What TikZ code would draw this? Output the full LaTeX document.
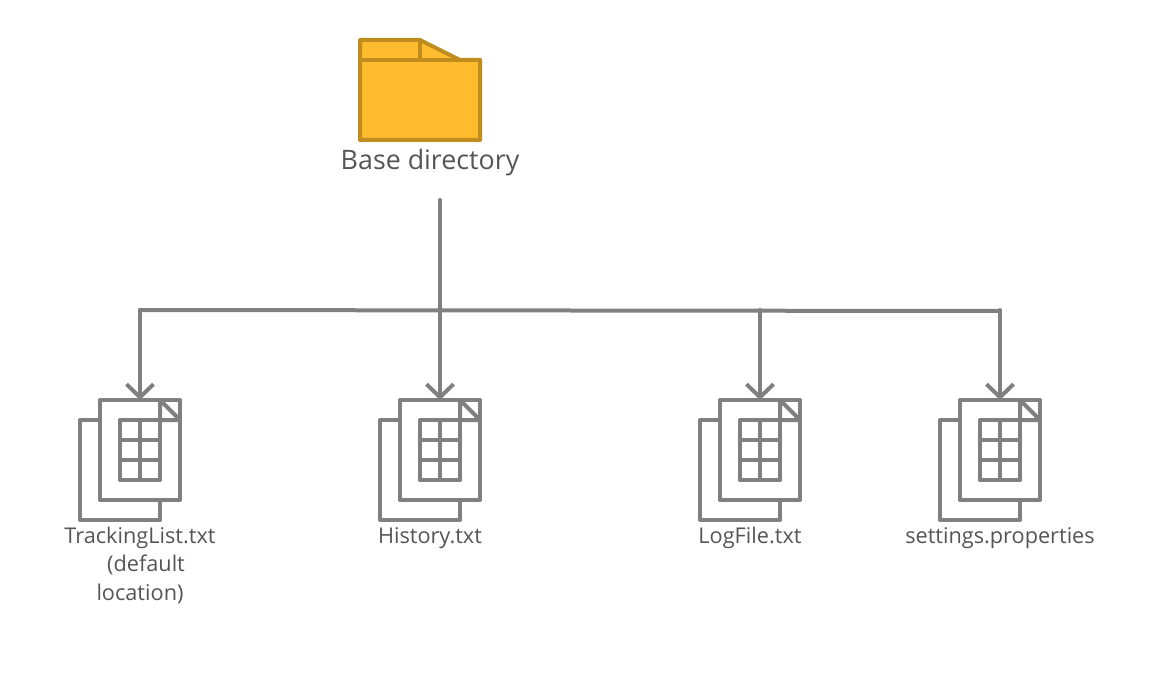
\documentclass[tikz,border=0pt]{standalone}
\usepackage{fontspec}
\setmainfont{Open Sans}
\usetikzlibrary{arrows.meta}
\definecolor{linegrey}{HTML}{808080}
\definecolor{textgrey}{HTML}{555555}
\definecolor{folderfill}{HTML}{FFBC2E}
\definecolor{folderline}{HTML}{BF8C1D}
\tikzset{
    wire/.style={draw=linegrey, line width=4pt},
    drop/.style={wire, -{Straight Barb[length=13pt, width=27pt, line width=4pt]}},
    icon/.style={draw=linegrey, line width=4pt, fill=white, line join=round},
    folder/.style={draw=folderline, line width=4pt, fill=folderfill, line join=round},
    caption/.style={text=textgrey, font=\fontsize{21.7pt}{28.5pt}\selectfont, align=center, anchor=base, inner sep=0pt}
}
\begin{document}
\begin{tikzpicture}[x=1pt, y=-1pt, line cap=round]
    \useasboundingbox (0,0) rectangle (1161,700);

    % Folder
    \draw[folder] (360,40) -- (420,40) -- (460,60) -- (480,60) -- (480,140) -- (360,140) -- cycle;
    \draw[folder] (360,60) -- (480,60) (420,40) -- (420,60);
    \node[caption, font=\fontsize{26.8pt}{32pt}\selectfont] (base) at (430,169.5) {Base directory};

    % Trunk and bus
    \coordinate (trunkTop) at (440,200);
    \coordinate (trunkEnd) at (440,310);
    \coordinate (busLeft) at (140,310);
    \coordinate (busRight) at (1000,311);
    \draw[wire] (trunkTop) -- (trunkEnd);
    \draw[wire] (busLeft) -- (busRight);

    % Files: arrow position / label position / label baseline / name / text
    \foreach \x/\lx/\ly/\name/\txt in {
        140/140/600/tracking/{TrackingList.txt\\\hspace*{12pt}(default\\location)},
        440/430/543/history/{History.txt},
        760/750/543/logfile/{LogFile.txt},
        1000/1000/543/settings/{settings.properties}} {
        \coordinate (\name Top) at (\x,400);
        \coordinate (\name Bus) at (\x,310);
        \draw[icon] (\x-60,420) rectangle (\x+20,520);
        \draw[icon] (\x-40,400) -- (\x+40,400) -- (\x+40,500) -- (\x-40,500) -- cycle;
        \draw[icon, fill=none] (\x+20,400) -- (\x+20,420) -- (\x+40,420) -- cycle;
        \draw[icon] (\x-20,420) rectangle (\x+20,480);
        \draw[icon, fill=none] (\x,420) -- (\x,480) (\x-20,440) -- (\x+20,440) (\x-20,460) -- (\x+20,460);
        \draw[drop] (\name Bus) -- (\name Top);
        \node[caption] (\name Label) at (\lx,\ly) {\txt};
    }
\end{tikzpicture}
\end{document}
